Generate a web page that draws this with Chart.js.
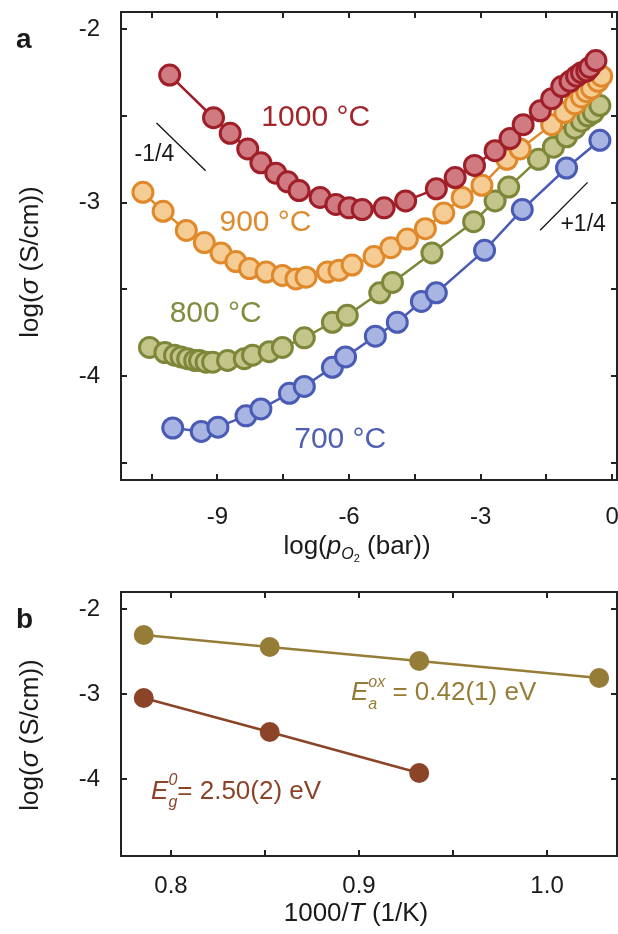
<!DOCTYPE html>
<html>
<head>
<meta charset="utf-8">
<script src="https://cdn.jsdelivr.net/npm/chart.js@4.4.1/dist/chart.umd.min.js"></script>
<style>
  body { margin: 0; background: #fff; }
  #wrap { position: relative; width: 618px; height: 934px; }
  canvas { position: absolute; left: 0; }
  #topChart { top: 0; }
  #botChart { top: 570px; }
</style>
</head>
<body>
<div id="wrap">
  <canvas id="topChart" width="618" height="570"></canvas>
  <canvas id="botChart" width="618" height="364"></canvas>
</div>
<script>
// ---- panel a: log(sigma) vs log(pO2) ----
const x1000 = [-10.09, -9.09, -8.71, -8.31, -8.01, -7.67, -7.40, -7.14, -6.66, -6.30, -6.00, -5.70, -5.20, -4.71, -4.01, -3.58, -3.14, -2.67, -2.33, -2.03, -1.64, -1.38, -1.15, -0.96, -0.81, -0.70, -0.58, -0.51, -0.37];
const y1000 = [-2.264, -2.51, -2.60, -2.69, -2.77, -2.83, -2.88, -2.93, -2.97, -3.01, -3.03, -3.04, -3.03, -2.99, -2.92, -2.855, -2.785, -2.70, -2.63, -2.55, -2.47, -2.40, -2.33, -2.30, -2.27, -2.25, -2.24, -2.22, -2.18];

const x900 = [-10.70, -10.24, -9.71, -9.30, -8.92, -8.58, -8.27, -7.89, -7.52, -7.21, -6.98, -6.49, -6.23, -5.93, -5.43, -5.05, -4.67, -4.26, -3.84, -3.42, -2.97, -2.40, -2.10, -1.38, -1.08, -0.85, -0.70, -0.58, -0.47, -0.32, -0.24];
const y900 = [-2.94, -3.05, -3.16, -3.23, -3.29, -3.34, -3.38, -3.40, -3.42, -3.44, -3.43, -3.40, -3.39, -3.36, -3.31, -3.26, -3.21, -3.15, -3.06, -2.97, -2.90, -2.75, -2.69, -2.55, -2.48, -2.43, -2.39, -2.36, -2.34, -2.30, -2.27];

const x800 = [-10.55, -10.20, -9.98, -9.83, -9.68, -9.52, -9.41, -9.26, -9.11, -8.77, -8.39, -8.20, -7.82, -7.52, -7.02, -6.38, -6.04, -5.30, -5.01, -4.11, -3.16, -2.67, -2.36, -1.68, -1.34, -1.04, -0.85, -0.70, -0.55, -0.43, -0.28];
const y800 = [-3.835, -3.865, -3.88, -3.89, -3.90, -3.91, -3.91, -3.92, -3.92, -3.91, -3.90, -3.88, -3.86, -3.835, -3.78, -3.69, -3.65, -3.52, -3.46, -3.29, -3.11, -2.99, -2.91, -2.75, -2.68, -2.62, -2.57, -2.53, -2.50, -2.48, -2.44];

const x700 = [-10.02, -9.37, -8.99, -8.35, -8.01, -7.36, -7.02, -6.38, -6.08, -5.40, -4.90, -4.35, -4.01, -2.91, -2.05, -1.04, -0.28];
const y700 = [-4.30, -4.32, -4.295, -4.23, -4.19, -4.10, -4.06, -3.95, -3.89, -3.77, -3.69, -3.57, -3.52, -3.275, -3.04, -2.80, -2.64];

// slope guides (-1/4 and +1/4)
const slopeNegX = [-10.39, -9.27];
const slopeNegY = [-2.54, -2.816];
const slopePosX = [-1.643, -0.561];
const slopePosY = [-3.159, -2.883];

const topXTicks = [-10.5, -9, -7.5, -6, -4.5, -3, -1.5, 0];
const topYTicks = [-4.5, -4, -3.5, -3, -2.5, -2];

// ---- panel b: Arrhenius ----
const invT = [0.7855, 0.8525, 0.932, 1.0277];
const sigmaOx = [-2.306, -2.447, -2.612, -2.812];
const invTg = [0.7855, 0.8525, 0.932];
const sigmaGap = [-3.047, -3.447, -3.929];

const botXTicks = [0.8, 0.85, 0.9, 0.95, 1.0];
const botYTicks = [-4, -3, -2];

const FONT = '"Liberation Sans", Arial, Helvetica, sans-serif';
Chart.defaults.font.family = FONT;
Chart.defaults.color = '#1a1a1a';

const pts = (xs, ys) => xs.map((x, i) => ({ x: x, y: ys[i] }));

function fixSize(size) {
  return s => {
    if (s.isHorizontal()) s.height = size; else s.width = size;
    s.paddingLeft = 0; s.paddingRight = 0; s.paddingTop = 0; s.paddingBottom = 0;
  };
}

// draws a line of text made of pieces with different fonts / offsets
function drawRich(ctx, parts, x, y, align) {
  let w = 0;
  const widths = parts.map(p => {
    ctx.font = p.font;
    if (p.stack) {
      return Math.max(ctx.measureText(p.sup).width, ctx.measureText(p.sub).width);
    }
    return ctx.measureText(p.t).width;
  });
  widths.forEach(v => w += v);
  let cx = align === 'center' ? x - w / 2 : x;
  ctx.textAlign = 'left';
  ctx.textBaseline = 'middle';
  parts.forEach((p, i) => {
    ctx.font = p.font;
    if (p.stack) {
      ctx.fillText(p.sup, cx, y - p.off);
      ctx.fillText(p.sub, cx, y + p.off);
    } else {
      ctx.fillText(p.t, cx, y + (p.dy || 0));
    }
    cx += widths[i];
  });
}

const frame = {
  id: 'frame',
  afterDraw(chart, args, opts) {
    const { ctx, chartArea: a } = chart;
    const xs = chart.scales.x, ys = chart.scales.y;
    ctx.save();
    ctx.strokeStyle = '#222';
    ctx.lineWidth = 2;
    ctx.beginPath();
    xs.ticks.forEach(t => {
      const p = Math.round(xs.getPixelForValue(t.value));
      ctx.moveTo(p, a.bottom); ctx.lineTo(p, a.bottom - 6);
      ctx.moveTo(p, a.top); ctx.lineTo(p, a.top + 6);
    });
    ys.ticks.forEach(t => {
      const p = Math.round(ys.getPixelForValue(t.value));
      ctx.moveTo(a.left, p); ctx.lineTo(a.left + 6, p);
      ctx.moveTo(a.right, p); ctx.lineTo(a.right - 6, p);
    });
    ctx.stroke();
    ctx.strokeRect(a.left, a.top, a.right - a.left, a.bottom - a.top);

    // labels in data coordinates
    (opts.labels || []).forEach(l => {
      ctx.fillStyle = l.color;
      drawRich(ctx, l.parts, xs.getPixelForValue(l.x), ys.getPixelForValue(l.y), 'left');
    });
    // titles in pixels
    ctx.fillStyle = '#1a1a1a';
    (opts.titles || []).forEach(t => {
      ctx.save();
      ctx.translate(t.x, t.y);
      if (t.rot) ctx.rotate(-Math.PI / 2);
      drawRich(ctx, t.parts, 0, 0, t.align || 'center');
      ctx.restore();
    });
    ctx.restore();
  }
};

const n26 = '26px ' + FONT, i26 = 'italic 26px ' + FONT;
const yTitle = [{ t: 'log(', font: n26 }, { t: 'σ', font: i26 }, { t: ' (S/cm))', font: n26 }];

function circles(label, data, edge, fill) {
  return {
    label: label, data: data, showLine: true,
    borderColor: edge, borderWidth: 2.5,
    pointRadius: 10, pointBorderWidth: 3,
    pointBackgroundColor: fill, pointBorderColor: edge
  };
}
function guide(data) {
  return { data: data, showLine: true, borderColor: '#111', borderWidth: 1.3, pointRadius: 0 };
}

new Chart(document.getElementById('topChart'), {
  type: 'scatter',
  data: {
    datasets: [
      circles('1000 °C', pts(x1000, y1000), '#A01E28', '#CF7B81'),
      circles('900 °C', pts(x900, y900), '#E0892B', '#F4CC94'),
      circles('800 °C', pts(x800, y800), '#7E8739', '#C3C58A'),
      circles('700 °C', pts(x700, y700), '#4A5BB5', '#A8B4E2'),
      guide(pts(slopeNegX, slopeNegY)),
      guide(pts(slopePosX, slopePosY))
    ]
  },
  options: {
    responsive: false,
    animation: false,
    events: [],
    layout: { autoPadding: false, padding: { top: 12, right: 1, left: 0, bottom: 0 } },
    plugins: {
      legend: { display: false },
      tooltip: { enabled: false },
      frame: {
        labels: [
          { x: -8.0, y: -2.51, color: '#A3262B', parts: [{ t: '1000 °C', font: '30px ' + FONT }] },
          { x: -8.955, y: -3.115, color: '#E08A2E', parts: [{ t: '900 °C', font: '30px ' + FONT }] },
          { x: -10.09, y: -3.64, color: '#838B3E', parts: [{ t: '800 °C', font: '30px ' + FONT }] },
          { x: -7.25, y: -4.37, color: '#5060B0', parts: [{ t: '700 °C', font: '30px ' + FONT }] },
          { x: -10.89, y: -2.724, color: '#1a1a1a', parts: [{ t: '-1/4', font: '23px ' + FONT }] },
          { x: -1.18, y: -3.126, color: '#1a1a1a', parts: [{ t: '+1/4', font: '23px ' + FONT }] }
        ],
        titles: [
          { x: 357, y: 547, parts: [
            { t: 'log(', font: n26 }, { t: 'p', font: i26 },
            { t: 'O', font: 'italic 16px ' + FONT, dy: 8 },
            { t: '2', font: '11px ' + FONT, dy: 12 },
            { t: ' (bar))', font: n26 }] },
          { x: 31, y: 262, rot: true, parts: yTitle },
          { x: 16, y: 40, align: 'left', parts: [{ t: 'a', font: 'bold 28px ' + FONT }] }
        ]
      }
    },
    scales: {
      x: {
        type: 'linear', min: -11.2, max: 0.11,
        afterBuildTicks: s => { s.ticks = topXTicks.map(v => ({ value: v })); },
        afterFit: fixSize(570 - 480),
        grid: { display: false, drawTicks: false },
        border: { display: false },
        ticks: { autoSkip: false, maxRotation: 0, padding: 23, font: { size: 24 },
          callback: v => (v % 3 === 0 ? String(v) : '') }
      },
      y: {
        type: 'linear', min: -4.6, max: -1.9,
        afterBuildTicks: s => { s.ticks = topYTicks.map(v => ({ value: v })); },
        afterFit: fixSize(121),
        grid: { display: false, drawTicks: false },
        border: { display: false },
        ticks: { autoSkip: false, padding: 21, font: { size: 24 },
          callback: v => (Number.isInteger(v) ? String(v) : '') }
      }
    }
  },
  plugins: [frame]
});

new Chart(document.getElementById('botChart'), {
  type: 'scatter',
  data: {
    datasets: [
      { data: pts(invT, sigmaOx), showLine: true, borderColor: '#967D37', borderWidth: 2.5,
        pointRadius: 10, pointBorderWidth: 0, pointBackgroundColor: '#967D37' },
      { data: pts(invTg, sigmaGap), showLine: true, borderColor: '#8C4428', borderWidth: 2.5,
        pointRadius: 10, pointBorderWidth: 0, pointBackgroundColor: '#8C4428' }
    ]
  },
  options: {
    responsive: false,
    animation: false,
    events: [],
    layout: { autoPadding: false, padding: { top: 22, right: 1, left: 0, bottom: 0 } },
    plugins: {
      legend: { display: false },
      tooltip: { enabled: false },
      frame: {
        labels: [
          { x: 0.8957, y: -2.99, color: '#967D37', parts: [
            { t: 'E', font: i26 }, { stack: true, sup: 'ox', sub: 'a', off: 11, font: 'italic 16px ' + FONT },
            { t: ' = 0.42(1) eV', font: n26 }] },
          { x: 0.7894, y: -4.15, color: '#8C4428', parts: [
            { t: 'E', font: i26 }, { stack: true, sup: '0', sub: 'g', off: 11, font: 'italic 16px ' + FONT },
            { t: '= 2.50(2) eV', font: n26 }] }
        ],
        titles: [
          { x: 356, y: 344, parts: [{ t: '1000/', font: n26 }, { t: 'T', font: i26 }, { t: ' (1/K)', font: n26 }] },
          { x: 31, y: 165, rot: true, parts: yTitle },
          { x: 16, y: 50, align: 'left', parts: [{ t: 'b', font: 'bold 28px ' + FONT }] }
        ]
      }
    },
    scales: {
      x: {
        type: 'linear', min: 0.7734, max: 1.0372,
        afterBuildTicks: s => { s.ticks = botXTicks.map(v => ({ value: v })); },
        afterFit: fixSize(364 - 286),
        grid: { display: false, drawTicks: false },
        border: { display: false },
        ticks: { autoSkip: false, maxRotation: 0, padding: 16, font: { size: 24 },
          callback: v => (Math.abs(v * 10 - Math.round(v * 10)) < 1e-6 ? v.toFixed(1) : '') }
      },
      y: {
        type: 'linear', min: -4.906, max: -1.8,
        afterBuildTicks: s => { s.ticks = botYTicks.map(v => ({ value: v })); },
        afterFit: fixSize(121),
        grid: { display: false, drawTicks: false },
        border: { display: false },
        ticks: { autoSkip: false, padding: 21, font: { size: 24 },
          callback: v => String(v) }
      }
    }
  },
  plugins: [frame]
});
</script>
</body>
</html>
